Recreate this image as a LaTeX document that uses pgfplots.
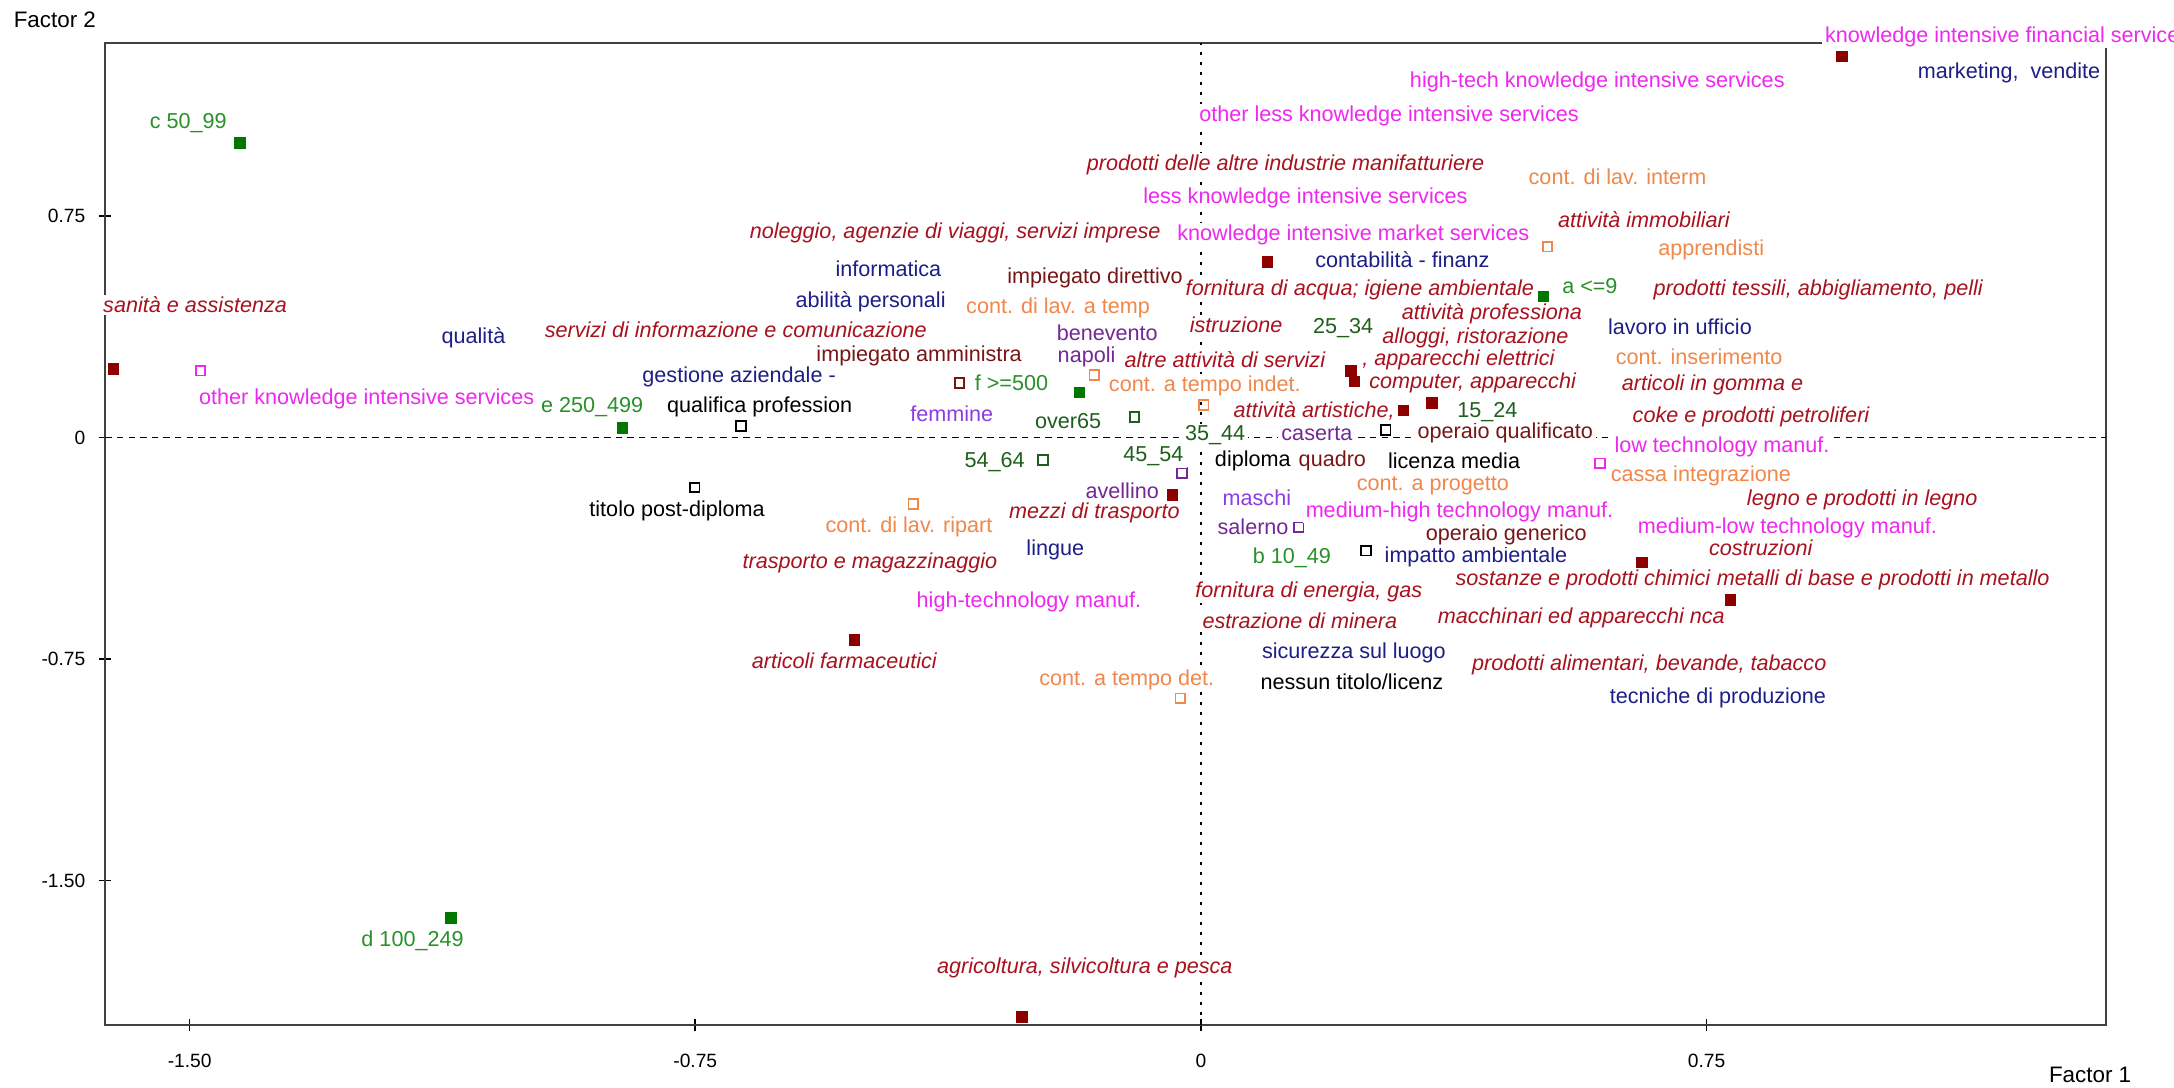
\documentclass[border=0pt]{standalone}
\usepackage{fontspec}
\setmainfont{Liberation Sans}
\usepackage{pgfplots}
\pgfplotsset{compat=1.18}
\definecolor{secred}{RGB}{168,18,30}
\definecolor{mkred}{RGB}{140,0,0}
\definecolor{kimag}{RGB}{238,40,238}
\definecolor{skill}{RGB}{30,30,135}
\definecolor{contr}{RGB}{240,135,75}
\definecolor{sizeg}{RGB}{40,145,40}
\definecolor{mkgreen}{RGB}{0,120,0}
\definecolor{ageg}{RGB}{30,95,30}
\definecolor{gender}{RGB}{140,60,225}
\definecolor{prov}{RGB}{115,40,150}
\definecolor{role}{RGB}{118,22,22}
\newcommand{\lbl}[4]{\node[#1] at (axis cs:#2,#3) {#4};}
\begin{document}
\begin{tikzpicture}[
  lab/.style={fill=white, inner xsep=0.8pt, inner ysep=0.4pt, font=\fontsize{5.4}{6}\selectfont},
  sec/.style={lab, text=secred, font=\fontsize{5.4}{6}\selectfont\itshape},
  km/.style={lab, text=kimag},
  sk/.style={lab, text=skill},
  co/.style={lab, text=contr},
  ro/.style={lab, text=role},
  ed/.style={lab, text=black},
  sz/.style={lab, text=sizeg},
  ag/.style={lab, text=ageg},
  ge/.style={lab, text=gender},
  pr/.style={lab, text=prov},
]
\begin{axis}[
  name=ax, scale only axis, width=500pt, height=245.6pt,
  xmin=-1.625, xmax=1.342, ymin=-1.991, ymax=1.336,
  clip=false, set layers,
  axis line style={draw=black!75, line width=0.5pt},
  tick pos=left, tick align=center, major tick length=3pt,
  tick style={black, line width=0.4pt},
  xtick={-1.5,-0.75,0,0.75}, xticklabels={-1.50,-0.75,0,0.75},
  ytick={-1.5,-0.75,0,0.75}, yticklabels={-1.50,-0.75,0,0.75},
  ticklabel style={font=\fontsize{4.8}{5}\selectfont},
  xticklabel style={yshift=-2pt},
]
% reference lines
\addplot[black, line width=0.4pt, dash pattern=on 1.6pt off 1.3pt] coordinates {(-1.625,0) (1.342,0)};
\addplot[black, line width=0.4pt, dash pattern=on 0.8pt off 1.7pt] coordinates {(0,-1.991) (0,1.336)};
% filled dark red (sectors)
\addplot[only marks, mark=square*, mark size=1.25pt, mark options={draw=mkred, fill=mkred}] table {
x y
-1.613 0.232
0.099 0.595
0.2226 0.226
0.228 0.189
0.3005 0.0908
0.343 0.116
-0.0424 -0.195
0.6546 -0.425
0.7856 -0.550
-0.514 -0.686
-0.265 -1.963
0.951 1.29
};
% filled green (firm size)
\addplot[only marks, mark=square*, mark size=1.25pt, mark options={draw=mkgreen, fill=mkgreen}] table {
x y
-1.425 0.998
-0.858 0.033
-0.180 0.152
0.508 0.478
-1.1128 -1.628
};
% open magenta
\addplot[only marks, mark=square, mark size=1.2pt, mark options={draw=kimag, line width=0.45pt}] table {
x y
-1.484 0.226
0.592 -0.087
};
% open orange
\addplot[only marks, mark=square, mark size=1.2pt, mark options={draw=contr, line width=0.45pt}] table {
x y
0.514 0.646
-0.4266 -0.225
-0.0307 -0.883
0.004 0.110
-0.158 0.212
};
% open black
\addplot[only marks, mark=square, mark size=1.2pt, mark options={draw=black, line width=0.45pt}] table {
x y
-0.6825 0.039
-0.751 -0.169
0.245 -0.383
0.274 0.025
};
% open maroon
\addplot[only marks, mark=square, mark size=1.2pt, mark options={draw=role, line width=0.45pt}] table {
x y
-0.358 0.184
};
% open dark green
\addplot[only marks, mark=square, mark size=1.2pt, mark options={draw=ageg, line width=0.45pt}] table {
x y
-0.234 -0.076
-0.0985 0.070
};
% open purple
\addplot[only marks, mark=square, mark size=1.2pt, mark options={draw=prov, line width=0.45pt}] table {
x y
-0.028 -0.12
0.145 -0.304
};
\begin{pgfonlayer}{axis foreground}
% knowledge classes
\node[km, anchor=west] at (axis cs:0.920,1.357) {knowledge intensive financial services};
\lbl{km}{0.588}{1.205}{high-tech knowledge intensive services}
\lbl{km}{0.279}{1.089}{other less knowledge intensive services}
\lbl{km}{0.155}{0.813}{less knowledge intensive services}
\lbl{km}{0.226}{0.686}{knowledge intensive market services}
\lbl{km}{-1.2375}{0.129}{other knowledge intensive services}
\lbl{km}{0.773}{-0.031}{low technology manuf.}
\lbl{km}{0.3835}{-0.251}{medium-high technology manuf.}
\lbl{km}{0.870}{-0.3076}{medium-low technology manuf.}
\lbl{km}{-0.255}{-0.556}{high-technology manuf.}
% sectors
\lbl{sec}{-1.492}{0.449}{sanità e assistenza}
\lbl{sec}{-0.690}{0.364}{servizi di informazione e comunicazione}
\lbl{sec}{-0.3645}{0.6915}{noleggio, agenzie di viaggi, servizi imprese}
\lbl{sec}{0.1256}{0.9228}{prodotti delle altre industrie manifatturiere}
\lbl{sec}{0.657}{0.7365}{attività immobiliari}
\lbl{sec}{0.2358}{0.4995}{fornitura di acqua; igiene ambientale}
\lbl{sec}{0.9157}{0.4995}{prodotti tessili, abbigliamento, pelli}
\lbl{sec}{0.4316}{0.4206}{attività professiona}
\lbl{sec}{0.0522}{0.381}{istruzione}
\lbl{sec}{0.4073}{0.338}{alloggi, ristorazione}
\lbl{sec}{0.0355}{0.262}{altre attività di servizi}
\lbl{sec}{0.382}{0.262}{, apparecchi elettrici}
\lbl{sec}{0.403}{0.186}{computer, apparecchi}
\lbl{sec}{0.759}{0.178}{articoli in gomma e}
\lbl{sec}{0.168}{0.0908}{attività artistiche,}
\lbl{sec}{0.816}{0.070}{coke e prodotti petroliferi}
\lbl{sec}{-0.158}{-0.257}{mezzi di trasporto}
\lbl{sec}{0.981}{-0.2117}{legno e prodotti in legno}
\lbl{sec}{0.8304}{-0.375}{costruzioni}
\lbl{sec}{-0.491}{-0.426}{trasporto e magazzinaggio}
\lbl{sec}{0.5666}{-0.4826}{sostanze e prodotti chimici}
\lbl{sec}{1.012}{-0.4826}{metalli di base e prodotti in metallo}
\lbl{sec}{0.160}{-0.522}{fornitura di energia, gas}
\lbl{sec}{0.5643}{-0.612}{macchinari ed apparecchi nca}
\lbl{sec}{0.1468}{-0.620}{estrazione di minera}
\lbl{sec}{-0.529}{-0.756}{articoli farmaceutici}
\lbl{sec}{0.665}{-0.770}{prodotti alimentari, bevande, tabacco}
\lbl{sec}{-0.1722}{-1.7975}{agricoltura, silvicoltura e pesca}
% skills
\lbl{sk}{1.1987}{1.2354}{marketing,~ vendite}
\lbl{sk}{-0.4636}{0.573}{informatica}
\lbl{sk}{-0.490}{0.460}{abilità personali}
\lbl{sk}{-1.079}{0.336}{qualità}
\lbl{sk}{0.299}{0.6034}{contabilità - finanz}
\lbl{sk}{-0.685}{0.204}{gestione aziendale -}
\lbl{sk}{0.7106}{0.375}{lavoro in ufficio}
\lbl{sk}{-0.216}{-0.381}{lingue}
\lbl{sk}{0.408}{-0.406}{impatto ambientale}
\lbl{sk}{0.227}{-0.731}{sicurezza sul luogo}
\lbl{sk}{0.767}{-0.883}{tecniche di produzione}
% contracts
\lbl{co}{0.618}{0.883}{cont. di lav. interm}
\lbl{co}{0.757}{0.635}{apprendisti}
\lbl{co}{-0.2119}{0.4375}{cont. di lav. a temp}
\lbl{co}{0.739}{0.2735}{cont. inserimento}
\lbl{co}{0.0058}{0.174}{cont. a tempo indet.}
\lbl{co}{0.344}{-0.164}{cont. a progetto}
\lbl{co}{0.7416}{-0.130}{cassa integrazione}
\lbl{co}{-0.433}{-0.302}{cont. di lav. ripart}
\lbl{co}{-0.110}{-0.821}{cont. a tempo det.}
% roles
\lbl{ro}{-0.157}{0.539}{impiegato direttivo}
\lbl{ro}{-0.418}{0.276}{impiegato amministra}
\lbl{ro}{0.195}{-0.0785}{quadro}
\lbl{ro}{0.4515}{0.014}{operaio qualificato}
\lbl{ro}{0.453}{-0.330}{operaio generico}
% education
\lbl{ed}{-0.6545}{0.104}{qualifica profession}
\lbl{ed}{-0.777}{-0.248}{titolo post-diploma}
\lbl{ed}{0.077}{-0.0785}{diploma}
\lbl{ed}{0.3755}{-0.0785}{licenza media}
\lbl{ed}{0.224}{-0.827}{nessun titolo/licenz}
% firm size
\lbl{sz}{-1.502}{1.066}{c 50\_99}
\lbl{sz}{-1.1694}{-1.704}{d 100\_249}
\lbl{sz}{-0.903}{0.102}{e 250\_499}
\lbl{sz}{-0.281}{0.184}{f >=500}
\lbl{sz}{0.577}{0.513}{a <=9}
\lbl{sz}{0.135}{-0.406}{b 10\_49}
% age
\lbl{ag}{0.211}{0.370}{25\_34}
\lbl{ag}{0.425}{0.087}{15\_24}
\lbl{ag}{0.021}{0.0085}{35\_44}
\lbl{ag}{-0.0705}{-0.065}{45\_54}
\lbl{ag}{-0.306}{-0.082}{54\_64}
\lbl{ag}{-0.197}{0.057}{over65}
% gender / province
\lbl{ge}{-0.3696}{0.0796}{femmine}
\lbl{ge}{0.083}{-0.2026}{maschi}
\lbl{pr}{-0.139}{0.353}{benevento}
\lbl{pr}{-0.1696}{0.2726}{napoli}
\lbl{pr}{-0.1167}{-0.180}{avellino}
\lbl{pr}{0.172}{0.014}{caserta}
\lbl{pr}{0.0774}{-0.302}{salerno}
% axis titles
\node[font=\fontsize{5.6}{6}\selectfont] at (axis cs:-1.700,1.416) {Factor 2};
\node[font=\fontsize{5.6}{6}\selectfont] at (axis cs:1.319,-2.159) {Factor 1};
\end{pgfonlayer}
\end{axis}
\pgfresetboundingbox
\path ([xshift=-26.35pt,yshift=-15.6pt]ax.south west) rectangle ([xshift=17.1pt,yshift=10.75pt]ax.north east);
\end{tikzpicture}
\end{document}
